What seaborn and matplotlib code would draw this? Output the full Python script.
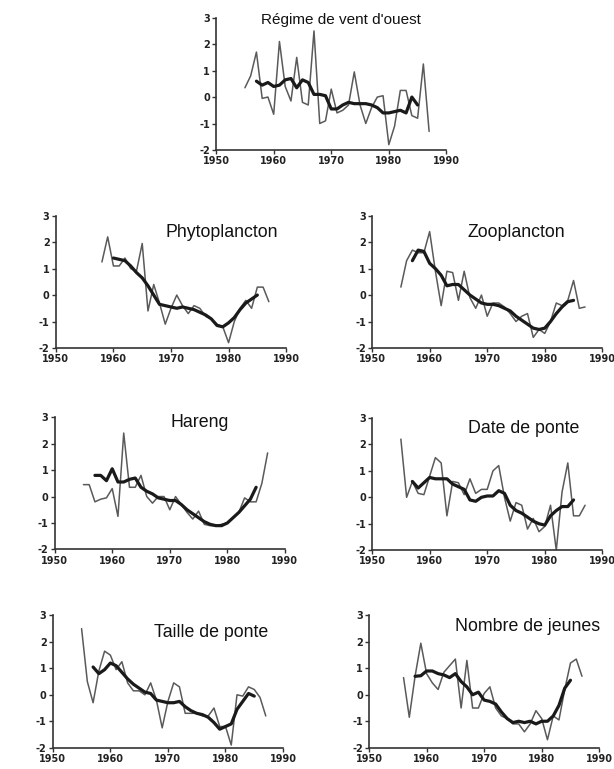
import numpy as np
import pandas as pd
import matplotlib
matplotlib.use("Agg")
import matplotlib.pyplot as plt
import seaborn as sns

# ---------------- data ----------------
titles = ["Régime de vent d'ouest", "Phytoplancton", "Zooplancton", "Hareng",
          "Date de ponte", "Taille de ponte", "Nombre de jeunes"]

vent_years = list(range(1955, 1988))
vent_raw = [0.35, 0.8, 1.7, -0.05, 0.0, -0.65, 2.1, 0.4, -0.15, 1.5, -0.2, -0.3, 2.5,
            -1.0, -0.9, 0.3, -0.6, -0.5, -0.3, 0.95, -0.3, -1.0, -0.4, 0.0, 0.05, -1.8,
            -1.1, 0.25, 0.25, -0.7, -0.8, 1.25, -1.3]
vent_smooth_years = list(range(1957, 1986))
vent_smooth = [0.6, 0.45, 0.55, 0.4, 0.45, 0.65, 0.7, 0.35, 0.65, 0.55, 0.1, 0.1, 0.05,
               -0.45, -0.45, -0.3, -0.2, -0.25, -0.25, -0.25, -0.3, -0.4, -0.6, -0.6,
               -0.55, -0.5, -0.6, 0.0, -0.3]

phyto_years = list(range(1958, 1988))
phyto_raw = [1.25, 2.2, 1.1, 1.1, 1.4, 1.0, 0.9, 1.95, -0.6, 0.4, -0.3, -1.1, -0.5, 0.0,
             -0.4, -0.7, -0.4, -0.5, -0.8, -0.9, -1.1, -1.2, -1.8, -1.0, -0.5, -0.2,
             -0.5, 0.3, 0.3, -0.25]
phyto_smooth_years = list(range(1960, 1986))
phyto_smooth = [1.4, 1.35, 1.3, 1.1, 0.85, 0.65, 0.35, 0.0, -0.35, -0.4, -0.45, -0.5,
                -0.45, -0.5, -0.55, -0.65, -0.75, -0.9, -1.15, -1.2, -1.05, -0.85,
                -0.55, -0.3, -0.15, 0.0]

zoo_years = list(range(1955, 1988))
zoo_raw = [0.3, 1.3, 1.7, 1.6, 1.6, 2.4, 0.9, -0.4, 0.9, 0.85, -0.2, 0.9, -0.1, -0.5,
           0.0, -0.8, -0.3, -0.3, -0.45, -0.7, -1.0, -0.8, -0.7, -1.6, -1.3, -1.45,
           -1.0, -0.3, -0.4, -0.2, 0.55, -0.5, -0.45]
zoo_smooth_years = list(range(1957, 1986))
zoo_smooth = [1.3, 1.7, 1.65, 1.2, 1.0, 0.75, 0.35, 0.4, 0.4, 0.2, 0.0, -0.15, -0.3,
              -0.35, -0.35, -0.4, -0.5, -0.6, -0.8, -0.95, -1.1, -1.25, -1.3, -1.25,
              -1.0, -0.7, -0.45, -0.25, -0.2]

hareng_years = list(range(1955, 1988))
hareng_raw = [0.45, 0.45, -0.2, -0.1, -0.05, 0.3, -0.75, 2.4, 0.35, 0.35, 0.8, 0.0,
              -0.25, 0.0, 0.0, -0.5, 0.0, -0.3, -0.6, -0.85, -0.55, -1.05, -1.1, -1.1,
              -1.05, -1.0, -0.8, -0.6, -0.05, -0.2, -0.2, 0.5, 1.65]
hareng_smooth_years = list(range(1957, 1986))
hareng_smooth = [0.8, 0.8, 0.6, 1.05, 0.55, 0.55, 0.65, 0.7, 0.35, 0.2, 0.1, -0.05,
                 -0.1, -0.15, -0.15, -0.3, -0.5, -0.65, -0.8, -0.95, -1.05, -1.1, -1.1,
                 -1.0, -0.8, -0.6, -0.35, -0.1, 0.35]

date_years = list(range(1955, 1988))
date_raw = [2.2, 0.0, 0.6, 0.15, 0.1, 0.8, 1.5, 1.3, -0.7, 0.6, 0.55, 0.1, 0.7, 0.15,
            0.3, 0.3, 1.0, 1.2, 0.0, -0.9, -0.2, -0.3, -1.2, -0.8, -1.3, -1.1, -0.3,
            -2.0, 0.2, 1.3, -0.7, -0.7, -0.3]
date_smooth_years = list(range(1957, 1986))
date_smooth = [0.6, 0.35, 0.55, 0.75, 0.7, 0.7, 0.7, 0.5, 0.4, 0.3, -0.1, -0.15, 0.0,
               0.05, 0.05, 0.25, 0.15, -0.3, -0.5, -0.6, -0.75, -0.9, -1.0, -1.05,
               -0.7, -0.5, -0.35, -0.35, -0.1]

taille_years = list(range(1955, 1988))
taille_raw = [2.5, 0.5, -0.3, 0.9, 1.65, 1.5, 0.95, 1.25, 0.45, 0.15, 0.15, 0.0, 0.45,
              -0.2, -1.25, -0.25, 0.45, 0.3, -0.7, -0.7, -0.7, -0.8, -0.8, -0.5, -1.2,
              -1.2, -1.9, 0.0, -0.05, 0.3, 0.2, -0.1, -0.8]
taille_smooth_years = list(range(1957, 1986))
taille_smooth = [1.05, 0.8, 0.95, 1.2, 1.1, 0.85, 0.6, 0.4, 0.25, 0.1, 0.05, -0.2,
                 -0.25, -0.3, -0.3, -0.25, -0.45, -0.6, -0.7, -0.75, -0.85, -1.05, -1.3,
                 -1.2, -1.1, -0.55, -0.25, 0.05, -0.05]

jeunes_years = list(range(1956, 1988))
jeunes_raw = [0.65, -0.85, 0.7, 1.95, 0.8, 0.45, 0.2, 0.85, 1.1, 1.35, -0.5, 1.3, -0.5,
              -0.5, 0.05, 0.3, -0.5, -0.8, -0.9, -1.1, -1.1, -1.4, -1.1, -0.6, -0.9,
              -1.7, -0.8, -0.95, 0.2, 1.2, 1.35, 0.7]
jeunes_smooth_years = list(range(1958, 1986))
jeunes_smooth = [0.7, 0.72, 0.9, 0.9, 0.8, 0.75, 0.65, 0.8, 0.5, 0.3, 0.0, 0.1, -0.2,
                 -0.25, -0.35, -0.65, -0.9, -1.05, -1.0, -1.05, -1.0, -1.1, -1.0, -1.0,
                 -0.8, -0.4, 0.25, 0.55]

x_ticks = [1950, 1960, 1970, 1980, 1990]
y_ticks = [-2, -1, 0, 1, 2, 3]

# ---------------- layout ----------------
sns.set_theme(style="white")
plt.rcParams['font.family'] = ['Liberation Sans', 'DejaVu Sans']

fig = plt.figure(figsize=(6.14, 7.69), dpi=100)

W = 0.375
H = 0.172
positions = [
    (0.352, 0.805),
    (0.091, 0.5475), (0.606, 0.5475),
    (0.089, 0.2855), (0.606, 0.2845),
    (0.086, 0.0277), (0.601, 0.0277),
]
title_pos = [(0.54, 0.98), (0.72, 0.875), (0.626, 0.87), (0.63, 0.96),
             (0.66, 0.92), (0.687, 0.87), (0.69, 0.914)]
title_size = [11, 12.8, 12.8, 12.8, 12.8, 12.8, 12.8]

panels = [
    (vent_years, vent_raw, vent_smooth_years, vent_smooth),
    (phyto_years, phyto_raw, phyto_smooth_years, phyto_smooth),
    (zoo_years, zoo_raw, zoo_smooth_years, zoo_smooth),
    (hareng_years, hareng_raw, hareng_smooth_years, hareng_smooth),
    (date_years, date_raw, date_smooth_years, date_smooth),
    (taille_years, taille_raw, taille_smooth_years, taille_smooth),
    (jeunes_years, jeunes_raw, jeunes_smooth_years, jeunes_smooth),
]

for i, (yrs, raw, syrs, smooth) in enumerate(panels):
    left, bottom = positions[i]
    ax = fig.add_axes([left, bottom, W, H])
    df_raw = pd.DataFrame({"year": yrs, "value": raw})
    df_s = pd.DataFrame({"year": syrs, "value": smooth})
    sns.lineplot(data=df_raw, x="year", y="value", ax=ax, color="#5a5a5a",
                 linewidth=1.1, estimator=None)
    sns.lineplot(data=df_s, x="year", y="value", ax=ax, color="#1a1a1a",
                 linewidth=2.3, estimator=None)
    ax.set_xlim(1950, 1990)
    ax.set_ylim(-2, 3)
    ax.set_xticks(x_ticks)
    ax.set_yticks(y_ticks)
    ax.set_xticklabels([str(t) for t in x_ticks], fontsize=7, fontweight="bold",
                       family="DejaVu Sans")
    ax.set_yticklabels([str(t) for t in y_ticks], fontsize=7, fontweight="bold",
                       family="DejaVu Sans")
    ax.set_xlabel("")
    ax.set_ylabel("")
    for s in ["top", "right"]:
        ax.spines[s].set_visible(False)
    for s in ["left", "bottom"]:
        ax.spines[s].set_color("#333333")
        ax.spines[s].set_linewidth(1.2)
    ax.tick_params(axis="both", which="both", length=3, width=1, color="#333333",
                   pad=1.5, colors="#222222", direction="out", bottom=True, left=True)
    ax.set_facecolor("white")
    tx, ty = title_pos[i]
    ax.text(tx, ty, titles[i], transform=ax.transAxes, ha="center", va="center",
            fontsize=title_size[i], color="#111111")

fig.savefig("out.png", dpi=100, facecolor="white")
